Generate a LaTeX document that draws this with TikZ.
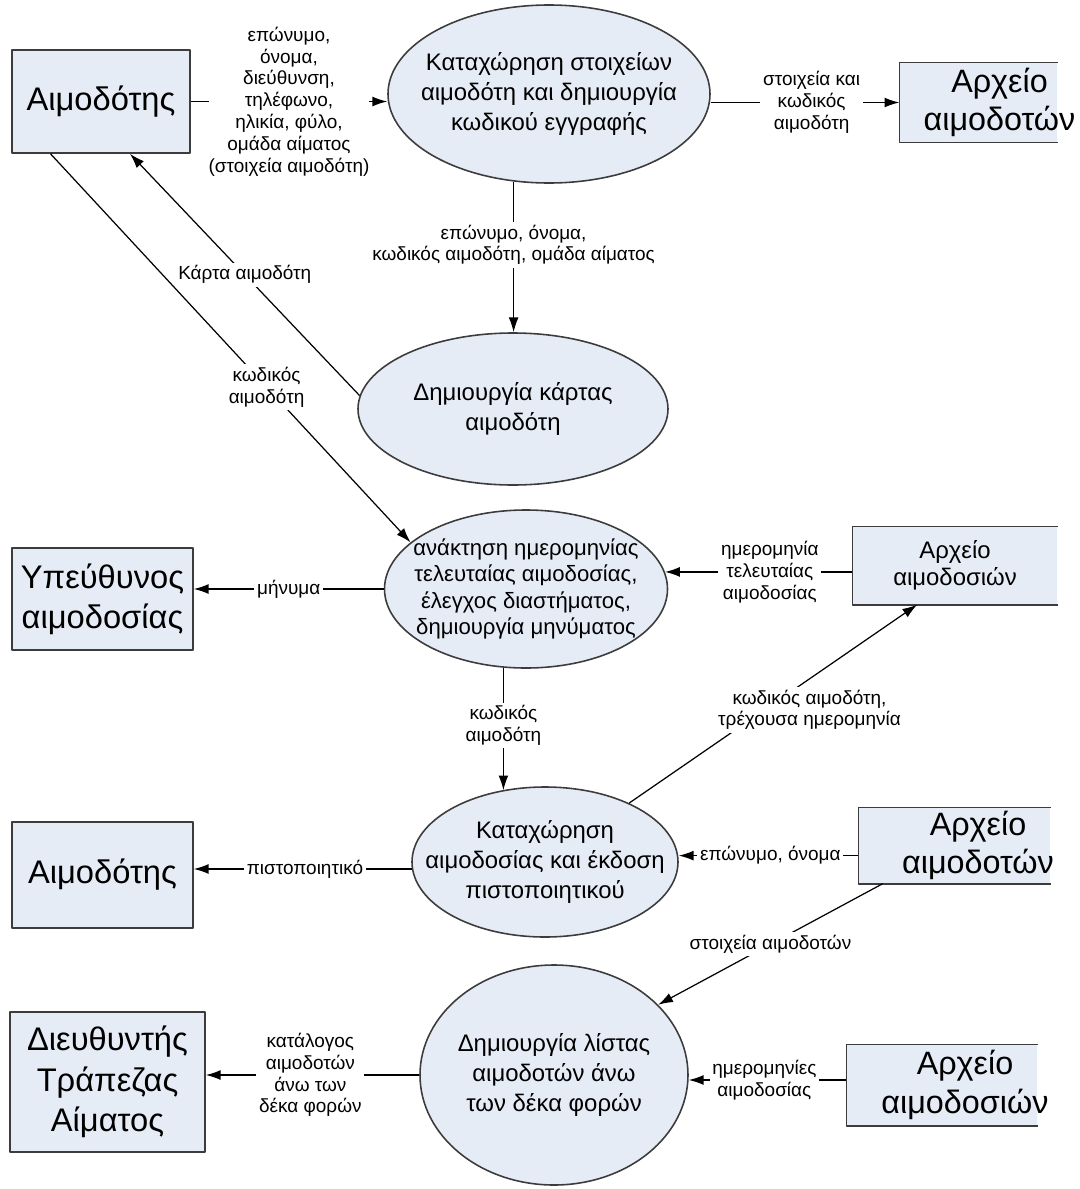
\documentclass[tikz,border=0pt]{standalone}
\usepackage{fontspec}
\setmainfont{Liberation Sans}
\usetikzlibrary{arrows.meta,shapes.geometric}
\definecolor{procfill}{RGB}{230,236,246}
\definecolor{edgegray}{RGB}{60,60,60}

\begin{document}
\begin{tikzpicture}[x=1cm,y=1cm,line join=round,>={Latex[length=4.2pt,width=2.8pt]}]
\tikzset{ent/.style={rectangle,draw=edgegray,fill=procfill,line width=0.45pt,inner sep=0pt,align=center,font=\fontsize{9.3}{11.4}\selectfont},
  proc/.style={ellipse,draw=edgegray,fill=procfill,line width=0.45pt,inner sep=0pt},
  proctext/.style={font=\fontsize{6.8}{8.5}\selectfont,align=center},
  store/.style={rectangle,fill=procfill,inner sep=0pt},
  storetext/.style={font=\fontsize{9.2}{11}\selectfont,align=center},
  flow/.style={->,line width=0.35pt},
  lab/.style={font=\fontsize{5.4}{6.2}\selectfont,align=center,fill=white,inner sep=0.8pt}}
\useasboundingbox (0,0) rectangle (10.80,-11.89);

% external entities
\node[ent,minimum width=1.78cm,minimum height=1.03cm] (don1) at (1.01,-1.015) {Αιμοδότης};
\node[ent,minimum width=1.81cm,minimum height=1.02cm] (resp) at (1.025,-5.99) {Υπεύθυνος\\αιμοδοσίας};
\node[ent,minimum width=1.81cm,minimum height=1.06cm] (don2) at (1.025,-8.75) {Αιμοδότης};
\node[ent,minimum width=1.95cm,minimum height=1.40cm,font=\fontsize{9.3}{11.6}\selectfont] (dir) at (1.075,-10.82) {Διευθυντής\\Τράπεζας\\Αίματος};

% processes
\node[proc,minimum width=3.22cm,minimum height=1.78cm,label={[proctext]center:{Καταχώρηση στοιχείων\\αιμοδότη και δημιουργία\\κωδικού εγγραφής}}] (p1) at (5.49,-0.94) {};
\node[proc,minimum width=3.10cm,minimum height=1.52cm,label={[proctext]center:{Δημιουργία κάρτας\\αιμοδότη}}] (p2) at (5.13,-4.09) {};
\node[proc,minimum width=2.83cm,minimum height=1.58cm,label={[proctext,font=\fontsize{6.3}{7.5}\selectfont]center:{ανάκτηση ημερομηνίας\\τελευταίας αιμοδοσίας,\\έλεγχος διαστήματος,\\δημιουργία μηνύματος}}] (p3) at (5.26,-5.89) {};
\node[proc,minimum width=2.66cm,minimum height=1.50cm,label={[proctext]center:{Καταχώρηση\\αιμοδοσίας και έκδοση\\πιστοποιητικού}}] (p4) at (5.45,-8.62) {};
\node[proc,minimum width=2.68cm,minimum height=2.20cm,label={[proctext]center:{Δημιουργία λίστας\\αιμοδοτών άνω\\των δέκα φορών}}] (p5) at (5.54,-10.75) {};

% data stores
\node[store,minimum width=1.57cm,minimum height=0.79cm,label={[storetext,xshift=0.21cm]center:{Αρχείο\\αιμοδοτών}}] (st1) at (9.785,-1.025) {};
\node[store,minimum width=2.04cm,minimum height=0.77cm,label={[storetext,font=\fontsize{6.8}{7.7}\selectfont]center:{Αρχείο\\αιμοδοσιών}}] (st2) at (9.55,-5.655) {};
\node[store,minimum width=1.91cm,minimum height=0.75cm,label={[storetext,xshift=0.235cm]center:{Αρχείο\\αιμοδοτών}}] (st3) at (9.545,-8.455) {};
\node[store,minimum width=1.90cm,minimum height=0.80cm,label={[storetext,xshift=0.23cm]center:{Αρχείο\\αιμοδοσιών}}] (st4) at (9.42,-10.85) {};
\foreach \s in {st1,st2,st3,st4} {
  \draw[edgegray,line width=0.45pt] (\s.north east) -- (\s.north west) -- (\s.south west) -- (\s.south east);
}

% data flows
\draw[flow] (don1.east) -- node[lab,pos=0.5,inner xsep=0pt] {επώνυμο,\\όνομα,\\διεύθυνση,\\τηλέφωνο,\\ηλικία, φύλο,\\ομάδα αίματος\\(στοιχεία αιμοδότη)} (don1.east -| p1.west);
\draw[flow] (st1.west -| p1.east) -- node[lab,pos=0.535] {στοιχεία και\\κωδικός\\αιμοδότη} (st1.west);
\draw[flow] (p1.248) -- node[lab,pos=0.42] {επώνυμο, όνομα,\\κωδικός αιμοδότη, ομάδα αίματος} (p1.248 |- p2.north);
\draw[flow] (p2.175) -- node[lab,pos=0.5] {Κάρτα αιμοδότη} (don1.299);
\draw[flow] (don1.226) -- node[lab,pos=0.6] {κωδικός\\αιμοδότη} (p3.158);
\draw[flow] (p3.west) -- node[lab,pos=0.5] {μήνυμα} (p3.west -| resp.east);
\draw[flow] (p3.7 -| st2.west) -- node[lab,pos=0.44] {ημερομηνία\\τελευταίας\\αιμοδοσίας} (p3.7);
\draw[flow] (p3.254) -- node[lab,pos=0.47] {κωδικός\\αιμοδότη} (p3.254 |- p4.121);
\draw[flow] (p4.183) -- node[lab,pos=0.49] {πιστοποιητικό} (p4.183 -| don2.east);
\draw[flow] (p4.35) -- node[lab,pos=0.47,xshift=0.45cm] {κωδικός αιμοδότη,\\τρέχουσα ημερομηνία} (st2.226);
\draw[flow] (st3.186) -- node[lab,pos=0.49] {επώνυμο, όνομα} (st3.186 -| p4.east);
\draw[flow] (st3.208) -- node[lab,pos=0.5] {στοιχεία αιμοδοτών} (p5.34);
\draw[flow] (p5.west) -- node[lab,pos=0.51] {κατάλογος\\αιμοδοτών\\άνω των\\δέκα φορών} (p5.west -| dir.east);
\draw[flow] (st4.177) -- node[lab,pos=0.52] {ημερομηνίες\\αιμοδοσίας} (st4.177 -| p5.east);
\end{tikzpicture}
\end{document}
